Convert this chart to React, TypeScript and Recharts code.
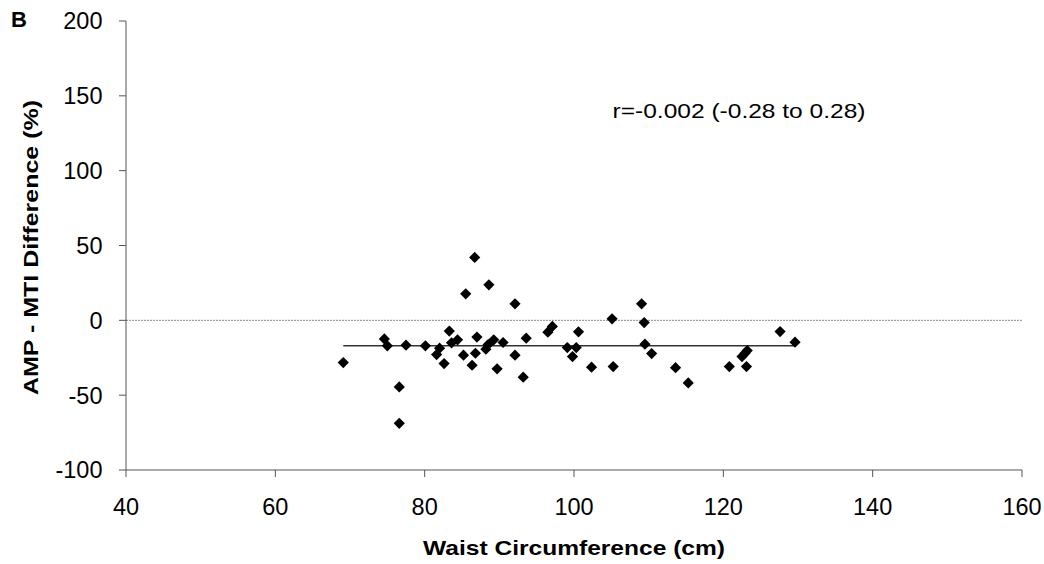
import React from 'react';
import { ScatterChart, Scatter, XAxis, YAxis, ReferenceLine, ReferenceDot, Customized } from 'recharts';

const waist = [
  69.1, 74.6, 75.0, 76.6, 76.6, 77.5, 80.1, 81.6, 82.0, 82.6,
  83.3, 83.6, 84.4, 85.2, 85.5, 86.35, 86.7, 86.8, 87.0, 88.2,
  88.5, 88.6, 89.25, 89.7, 90.5, 92.1, 92.1, 93.2, 93.6, 96.5,
  97.1, 99.1, 99.8, 100.3, 100.6, 102.35, 105.1, 105.25, 109.05, 109.4,
  109.5, 110.4, 113.6, 115.3, 120.8, 122.5, 122.9, 123.2, 123.1, 127.6,
  129.6,
];
const diff = [
  -28.2, -12.4, -17.0, -44.5, -68.8, -16.6, -17.0, -22.9, -18.6, -28.9,
  -7.2, -15.0, -13.0, -23.3, 17.7, -30.0, 42.0, -22.0, -11.2, -19.3,
  -16.2, 23.7, -13.0, -32.4, -14.8, 11.0, -23.3, -38.0, -11.9, -7.9,
  -4.1, -18.2, -24.2, -18.2, -7.7, -31.3, 1.0, -30.9, 11.0, -1.5,
  -15.9, -22.2, -31.6, -41.8, -30.9, -24.2, -22.0, -20.2, -30.9, -7.5,
  -14.6,
];
const xTicks = [40, 60, 80, 100, 120, 140, 160];
const yTicks = [-100, -50, 0, 50, 100, 150, 200];
const fitStartX = 69.1;
const fitEndX = 129.6;
const fitY = -17;
const annotation = 'r=-0.002 (-0.28 to 0.28)';
const annotationPos = { x: 105.16, y: 135.3 };
const xTitle = 'Waist Circumference (cm)';
const yTitle = 'AMP - MTI Difference (%)';
const panelLetter = 'B';

const data = waist.map((w, i) => ({ x: w, y: diff[i] }));

const FONT = '"Liberation Sans", Arial, Helvetica, sans-serif';
const TICK_SIZE = 23.5;

const Diamond = (props: any) => {
  const { cx, cy } = props;
  const r = 5.6;
  return <path d={`M${cx},${cy - r}L${cx + r},${cy}L${cx},${cy + r}L${cx - r},${cy}Z`} fill="#000" />;
};

const XTick = (p: any) => (
  <text x={p.x} y={p.y} dy="0.71em" textAnchor="middle" fontFamily={FONT} fontSize={TICK_SIZE} fill="#000">
    {p.payload.value}
  </text>
);

const YTick = (p: any) => (
  <text x={p.x} y={p.y} dy="0.355em" textAnchor="end" fontFamily={FONT} fontSize={TICK_SIZE} fill="#000">
    {p.payload.value}
  </text>
);

const XTitle = (p: any) => {
  const vb = p.viewBox;
  return (
    <text x={vb.x + vb.width / 2} y={vb.y + 85} textAnchor="middle" fontFamily={FONT} fontWeight="bold" fontSize={21}
      textLength={302} lengthAdjust="spacingAndGlyphs" fill="#000">{xTitle}</text>
  );
};

const YTitle = (p: any) => {
  const vb = p.viewBox;
  const x = vb.x + 38;
  const y = vb.y + vb.height / 2 + 2;
  return (
    <text x={x} y={y} transform={`rotate(-90, ${x}, ${y})`} textAnchor="middle" fontFamily={FONT} fontWeight="bold" fontSize={21}
      textLength={295} lengthAdjust="spacingAndGlyphs" fill="#000">{yTitle}</text>
  );
};

const Annot = (p: any) => {
  const vb = p.viewBox;
  return (
    <text x={vb.x} y={vb.y} fontFamily={FONT} fontSize={21} textLength={253} lengthAdjust="spacingAndGlyphs" fill="#000">{annotation}</text>
  );
};

const Letter = () => (
  <text x={11} y={27} fontFamily={FONT} fontWeight="bold" fontSize={22} fill="#000">{panelLetter}</text>
);

export default function App() {
  return (
    <div style={{ position: 'absolute', left: 0, top: 0, width: 1044, height: 564, background: '#fff' }}>
      <ScatterChart width={1044} height={564} margin={{ top: 21, right: 22, bottom: 0, left: 0 }}>
        <XAxis type="number" dataKey="x" domain={[40, 160]} ticks={xTicks} height={94}
          stroke="#555" tickSize={7} tickMargin={21} allowDataOverflow
          tick={XTick}
          label={{ content: XTitle }} />
        <YAxis type="number" dataKey="y" domain={[-100, 200]} ticks={yTicks} width={126}
          stroke="#555" tickSize={7} tickMargin={16.5} allowDataOverflow
          tick={YTick}
          label={{ content: YTitle }} />
        <ReferenceLine y={0} stroke="#8a8a8a" strokeDasharray="2 1" strokeWidth={1} />
        <ReferenceLine segment={[{ x: fitStartX, y: fitY }, { x: fitEndX, y: fitY }]} stroke="#333" strokeWidth={1.5} />
        <Scatter data={data} shape={Diamond} isAnimationActive={false} />
        <ReferenceDot x={annotationPos.x} y={annotationPos.y} r={0} fill="none" stroke="none" label={{ content: Annot }} />
        <Customized component={<Letter />} />
      </ScatterChart>
    </div>
  );
}
